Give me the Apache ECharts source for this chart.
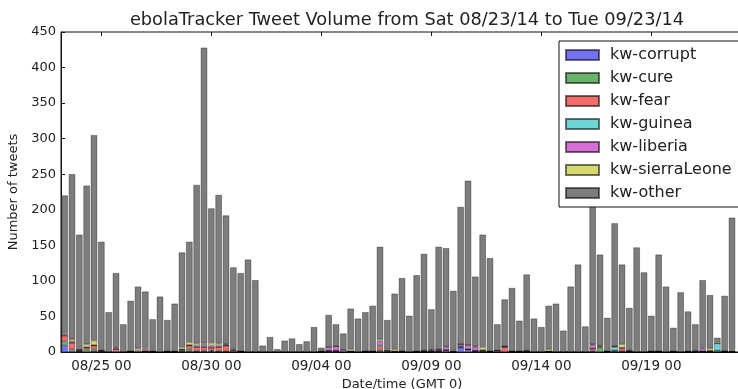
<!DOCTYPE html>
<html>
<head>
<meta charset="utf-8">
<script src="https://cdn.jsdelivr.net/npm/echarts@6/dist/echarts.min.js"></script>
<style>html,body{margin:0;padding:0;background:#fff}#c{width:738px;height:389px}</style>
</head>
<body>
<div id="c"></div>
<script>
// 8-hour bins starting Sat 08/23/14 08:00 GMT
var binStart = Date.UTC(2014, 7, 23, 8, 0, 0);
var binHours = 8;
var binCount = 93;

var tickLabels = ["08/25 00", "08/30 00", "09/04 00", "09/09 00", "09/14 00", "09/19 00"];
var tickIndex = [5, 20, 35, 50, 65, 80];

var seriesNames = ["kw-corrupt", "kw-cure", "kw-fear", "kw-guinea", "kw-liberia", "kw-sierraLeone", "kw-other"];
var seriesColors = ["#7272f2", "#68b468", "#f26c6c", "#6ed6d6", "#d470d8", "#d8d870", "#7d7d7d"];

var kwCorrupt = [10,2,1,0,1,0,0,0,0,0, 0,1,0,0,0,0,0,1,0,1, 1,0,0,0,0,0,0,0,0,0, 0,0,0,0,0,0,1,1,0,0, 0,0,0,1,0,0,0,0,0,0, 0,1,2,0,6,3,1,0,0,0, 0,0,0,0,0,0,0,0,0,0, 0,0,1,0,0,1,0,0,0,0, 0,0,0,0,0,0,0,1,0,0, 0,0,null];
var kwCure = [5,2,0,3,3,1,0,0,0,0, 0,0,0,0,0,0,1,3,1,1, 1,1,1,0,0,0,0,0,0,0, 0,0,0,0,0,0,0,0,0,1, 0,0,0,2,1,0,0,0,0,0, 0,0,0,0,1,1,0,1,0,0, 0,0,0,0,0,0,0,0,0,0, 0,0,1,6,0,1,1,0,0,0, 0,0,0,0,0,0,0,0,1,2, 0,0,null];
var kwFear = [8,9,2,3,5,1,0,4,0,1, 0,0,0,0,0,0,2,5,6,5, 4,6,8,2,1,0,0,0,0,0, 0,0,0,0,0,0,1,1,0,0, 0,1,1,5,1,0,1,0,0,1, 1,1,1,0,0,0,1,1,1,2, 7,1,0,1,0,0,1,0,0,0, 0,0,3,1,1,0,4,1,0,0, 1,1,0,0,0,0,1,0,0,0, 1,1,null];
var kwGuinea = [0,0,0,0,0,0,0,0,0,0, 0,0,0,0,0,0,0,0,0,0, 0,0,0,0,0,0,0,0,0,0, 0,0,0,0,0,0,0,0,0,0, 0,0,0,2,0,0,0,0,0,0, 0,0,0,0,1,0,0,0,0,0, 0,0,0,0,0,0,0,0,0,0, 0,0,0,1,0,5,1,0,0,0, 0,0,0,0,0,0,0,0,0,10, 0,0,null];
var kwLiberia = [2,2,0,1,1,0,0,2,0,0, 2,3,1,0,1,0,1,1,2,3, 3,2,1,1,0,0,0,0,0,0, 0,0,0,0,0,1,5,6,3,0, 0,0,0,5,0,1,0,0,1,1, 2,2,4,1,3,6,5,1,0,0, 1,0,1,1,0,0,0,0,0,0, 0,0,5,1,0,1,0,1,0,0, 0,0,0,1,0,0,1,4,1,0, 0,1,null];
var kwSierraLeone = [2,3,0,4,6,0,0,1,0,0, 3,2,0,0,0,1,3,4,3,2, 4,3,1,1,0,0,0,0,0,0, 0,0,0,0,0,0,0,0,0,3, 0,0,0,3,2,3,0,0,0,0, 0,0,1,1,0,0,1,4,0,0, 0,0,0,0,0,0,3,0,0,0, 0,0,1,1,0,0,5,0,0,0, 0,0,0,0,0,1,1,1,3,2, 0,2,null];
var kwOther = [193,232,162,223,289,153,56,104,39,71,
  87,79,45,78,44,67,133,141,223,416,
  189,209,181,115,110,130,101,9,21,4,
  16,19,11,15,35,5,45,31,23,57,
  47,55,64,130,41,78,103,51,107,136,
  57,144,138,84,193,231,98,158,131,37,
  66,89,43,107,47,35,61,68,30,92,
  123,36,199,127,47,173,112,60,147,112,
  50,136,92,33,84,56,36,95,75,6,
  78,185,null];

var seriesData = [kwCorrupt, kwCure, kwFear, kwGuinea, kwLiberia, kwSierraLeone, kwOther];

function pad(n){ return (n < 10 ? '0' : '') + n; }
var categories = [];
for (var i = 0; i < binCount; i++) {
  var d = new Date(binStart + i * binHours * 3600 * 1000);
  categories.push(pad(d.getUTCMonth() + 1) + '/' + pad(d.getUTCDate()) + ' ' + pad(d.getUTCHours()));
}
var labelFor = {};
tickIndex.forEach(function (idx, k) { labelFor[idx] = tickLabels[k]; });
function showTick(index) { return labelFor.hasOwnProperty(index); }

var FONT = 'DejaVu Sans';
var chart = echarts.init(document.getElementById('c'), null, {renderer: 'canvas'});

var series = seriesNames.map(function (name, k) {
  return {
    name: name,
    type: 'bar',
    stack: 'all',
    data: seriesData[k],
    barCategoryGap: '12%',
    itemStyle: {color: seriesColors[k], borderColor: 'rgba(0,0,0,0.55)', borderWidth: 0.6},
    emphasis: {disabled: true},
    animation: false
  };
});

chart.setOption({
  animation: false,
  backgroundColor: '#ffffff',
  title: {
    text: 'ebolaTracker Tweet Volume from Sat 08/23/14 to Tue 09/23/14',
    left: 402, top: 6, textAlign: 'center',
    textStyle: {fontFamily: FONT, fontSize: 17.8, fontWeight: 'normal', color: '#222'}
  },
  grid: {left: 61, top: 32, right: -5, bottom: 37, containLabel: false, outerBoundsMode: 'none',
    show: true, borderColor: '#111', borderWidth: 1, backgroundColor: 'transparent'},
  legend: {
    orient: 'vertical', left: 559, top: 41,
    padding: [6, 7, 6, 6],
    itemWidth: 33, itemHeight: 10, itemGap: 7,
    backgroundColor: '#fff', borderColor: '#111', borderWidth: 1,
    icon: 'rect', selectedMode: false,
    textStyle: {fontFamily: FONT, fontSize: 16, color: '#222', lineHeight: 16, padding: [0, 0, 0, 6]},
    data: seriesNames
  },
  xAxis: [{
    type: 'category', data: categories, position: 'bottom',
    name: 'Date/time (GMT 0)', nameLocation: 'middle', nameGap: 23,
    nameTextStyle: {fontFamily: FONT, fontSize: 13, color: '#222'},
    axisLine: {show: true, lineStyle: {color: '#111', width: 1}},
    axisTick: {show: true, inside: true, length: 4, alignWithLabel: true, interval: showTick, lineStyle: {color: '#111'}},
    axisLabel: {show: true, interval: showTick, margin: 7, fontFamily: FONT, fontSize: 13.5, color: '#222',
      formatter: function (v, idx) { return labelFor[idx] || ''; }},
    splitLine: {show: false}
  }, {
    type: 'category', data: categories, position: 'top',
    axisLine: {show: false},
    axisTick: {show: true, inside: true, length: 4, alignWithLabel: true, interval: showTick, lineStyle: {color: '#111'}},
    axisLabel: {show: false},
    splitLine: {show: false}
  }],
  yAxis: {
    type: 'value', min: 0, max: 450, interval: 50,
    name: 'Number of tweets', nameLocation: 'middle', nameGap: 31, nameRotate: 90,
    nameTextStyle: {fontFamily: FONT, fontSize: 13, color: '#222'},
    axisLine: {show: true, lineStyle: {color: '#111', width: 1}},
    axisTick: {show: true, inside: true, length: 4, lineStyle: {color: '#111'}},
    axisLabel: {fontFamily: FONT, fontSize: 13, color: '#222', margin: 5},
    splitLine: {show: false}
  },
  series: series
});
</script>
</body>
</html>
